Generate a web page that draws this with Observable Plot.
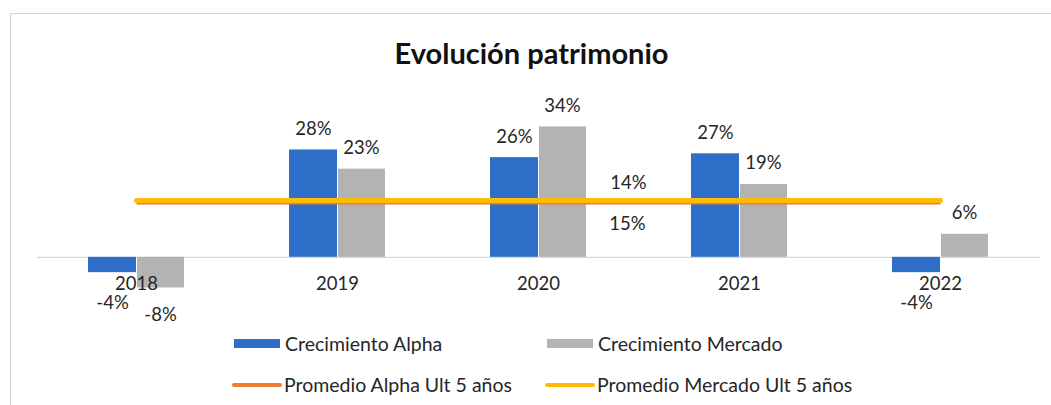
<!DOCTYPE html>
<html>
<head>
<meta charset="utf-8">
<script src="https://cdn.jsdelivr.net/npm/d3@7"></script>
<script src="https://cdn.jsdelivr.net/npm/@observablehq/plot@0.6"></script>
<style>
  html, body { margin: 0; padding: 0; background: #fff; }
  body { width: 1051px; height: 405px; position: relative; overflow: hidden; font-family: Lato, "Open Sans", sans-serif; color: #262626; }
  #frame { position: absolute; left: 10px; top: 13px; width: 1060px; height: 420px; border: 1px solid #d4d4d4; box-sizing: border-box; }
  #title { position: absolute; left: 12px; right: 0; top: 35px; text-align: center; font-weight: 700; font-size: 29px; color: #111; }
  #chart { position: absolute; left: 0; top: 80px; }
  .leg { position: absolute; display: flex; align-items: center; font-size: 19.5px; color: #262626; white-space: nowrap; }
  .sw { display: inline-block; margin-right: 5px; }
</style>
</head>
<body>
<div id="frame"></div>
<div id="title"></div>
<div id="chart"></div>
<div id="legend"></div>
<script>
// ---- data ----
const title = "Evolución patrimonio";
const years = ["2018", "2019", "2020", "2021", "2022"];
const alpha = [-4, 28, 26, 27, -4];
const mercado = [-8, 23, 34, 19, 6];
const avgAlpha = 14.4;
const avgMercado = 14.8;
const seriesNames = ["Crecimiento Alpha", "Crecimiento Mercado", "Promedio Alpha Ult 5 años", "Promedio Mercado Ult 5 años"];

// ---- styles ----
const BLUE = "#2f6fca", GRAY = "#b3b3b3", ORANGE = "#ed7d31", YELLOW = "#fbbd08";

document.getElementById("title").textContent = title;

const rows = years.map((y, i) => ({year: y, alpha: alpha[i], mercado: mercado[i]}));
const pct = v => Math.round(v) + "%";
const labelYear = "2020";

const chart = Plot.plot({
  width: 1051,
  height: 240,
  marginTop: 20,
  marginBottom: 21,
  marginLeft: 37,
  marginRight: 11,
  x: {type: "band", domain: years, paddingInner: 0.522, paddingOuter: 0.256, axis: null},
  y: {domain: [-11, 40.9], axis: null},
  style: {fontFamily: "Lato, 'Open Sans', sans-serif", fontSize: "18.5px", color: "#262626", background: "transparent", overflow: "visible"},
  marks: [
    Plot.ruleY([0], {stroke: "#cfcfcf", strokeWidth: 1}),
    Plot.barY(rows, {x: "year", y: "alpha", fill: BLUE, insetRight: 48}),
    Plot.barY(rows, {x: "year", y: "mercado", fill: GRAY, insetLeft: 49}),
    Plot.lineY(years, {x: d => d, y: () => avgAlpha, stroke: ORANGE, strokeWidth: 5, strokeLinecap: "butt"}),
    Plot.lineY(years, {x: d => d, y: () => avgMercado, stroke: YELLOW, strokeWidth: 5}),
    Plot.text(years, {x: d => d, y: () => 0, dy: 27, text: d => d, fill: "#262626"}),
    Plot.text(rows.filter(d => d.alpha >= 0), {x: "year", y: "alpha", text: d => pct(d.alpha), dx: -24, dy: -21, fill: "#262626"}),
    Plot.text(rows.filter(d => d.alpha < 0), {x: "year", y: "alpha", text: d => pct(d.alpha), dx: -24, dy: 30, fill: "#262626"}),
    Plot.text(rows.filter(d => d.mercado >= 0), {x: "year", y: "mercado", text: d => pct(d.mercado), dx: 24, dy: -21, fill: "#262626"}),
    Plot.text(rows.filter(d => d.mercado < 0), {x: "year", y: "mercado", text: d => pct(d.mercado), dx: 24, dy: 27, fill: "#262626"}),
    Plot.text([avgAlpha], {x: () => labelYear, y: d => d, text: d => pct(d), dx: 90, dy: -19, fill: "#262626"}),
    Plot.text([avgMercado], {x: () => labelYear, y: d => d, text: d => pct(d), dx: 89, dy: 24, fill: "#262626"})
  ]
});
document.getElementById("chart").appendChild(chart);

// ---- legend ----
const legendItems = [
  {name: seriesNames[0], color: BLUE, kind: "bar", left: 234, top: 332},
  {name: seriesNames[1], color: GRAY, kind: "bar", left: 547, top: 332},
  {name: seriesNames[2], color: ORANGE, kind: "line", left: 232, top: 373},
  {name: seriesNames[3], color: YELLOW, kind: "line", left: 545, top: 373}
];
const leg = document.getElementById("legend");
legendItems.forEach(it => {
  const d = document.createElement("div");
  d.className = "leg";
  d.style.left = it.left + "px";
  d.style.top = it.top + "px";
  const s = document.createElement("span");
  s.className = "sw";
  s.style.background = it.color;
  if (it.kind === "bar") { s.style.width = "46px"; s.style.height = "9px"; }
  else { s.style.width = "50px"; s.style.height = "4px"; s.style.borderRadius = "2px"; s.style.marginRight = "2px"; }
  d.appendChild(s);
  const t = document.createElement("span");
  t.textContent = it.name;
  d.appendChild(t);
  leg.appendChild(d);
});
</script>
</body>
</html>
